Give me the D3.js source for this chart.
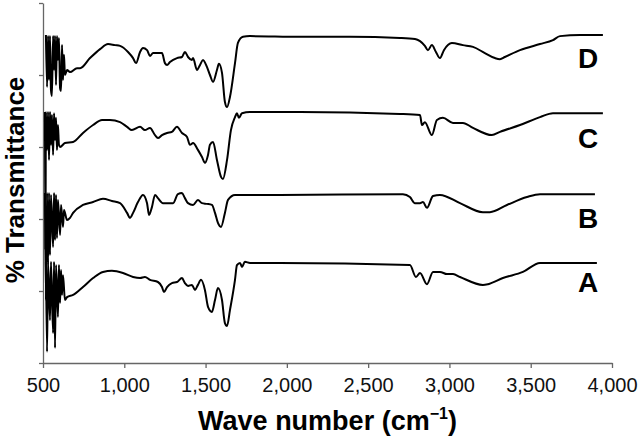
<!DOCTYPE html>
<html>
<head>
<meta charset="utf-8">
<script src="https://cdn.jsdelivr.net/npm/d3@7"></script>
<style>
  body { margin: 0; background: #fff; }
  svg { display: block; font-family: Arial, "Liberation Sans", Helvetica, sans-serif; }
</style>
</head>
<body>
<svg id="view" width="640" height="436"></svg>
<script>
// FTIR spectra, offset stack; [wave number, % transmittance (arbitrary offset)]
var specD = [
  [518,91.1],[525,76.7],[531,90.8],[537,78.6],[543,90.8],[549,75.8],[555,74.2],[562,90.8],
  [568,81.4],[574,90.8],[580,77.2],[586,90.8],[592,84.2],[598,90.3],[605,76.4],[611,75.6],
  [617,88.3],[623,78.6],[629,85.6],[635,80.0],[648,81.4],[666,80.8],[709,81.9],[728,81.9],
  [789,84.7],[851,87.2],[900,88.6],[943,88.3],[974,88.1],[1023,86.4],[1054,84.7],[1072,83.3],
  [1097,86.4],[1115,87.5],[1140,86.9],[1158,85.3],[1177,86.1],[1232,86.1],[1250,83.3],[1263,82.8],
  [1281,83.6],[1324,84.7],[1355,85.0],[1373,86.4],[1392,85.0],[1416,84.2],[1423,84.7],[1447,81.4],
  [1466,82.8],[1484,84.2],[1509,82.2],[1527,80.0],[1546,78.1],[1570,81.4],[1582,83.1],[1601,80.6],
  [1619,72.5],[1632,71.1],[1650,73.9],[1681,83.3],[1699,88.9],[1730,90.6],[1773,90.8],[2081,90.6],
  [2388,90.6],[2696,90.3],[2788,90.0],[2819,89.4],[2849,88.1],[2868,86.9],[2892,88.3],[2917,86.4],
  [2942,84.7],[2966,86.9],[3015,88.9],[3083,88.3],[3145,87.8],[3218,86.1],[3280,84.7],[3311,84.4],
  [3341,85.0],[3434,86.9],[3557,88.6],[3637,89.7],[3680,90.8],[3803,91.1],[3944,91.1]
];
var specC = [
  [512,69.7],[515,31.4],[518,69.7],[525,59.2],[531,69.7],[537,56.4],[543,69.7],[549,60.6],
  [555,68.9],[562,57.8],[568,69.4],[574,61.9],[580,68.1],[586,59.2],[592,66.1],[598,60.6],
  [605,60.0],[635,61.1],[685,61.4],[746,63.9],[808,66.1],[863,67.5],[912,67.5],[974,66.9],
  [1017,65.6],[1047,64.7],[1097,65.6],[1127,64.7],[1158,65.3],[1189,63.3],[1207,62.5],[1232,63.3],
  [1263,63.9],[1293,64.2],[1324,65.6],[1355,63.9],[1386,62.8],[1404,60.6],[1423,61.1],[1453,59.2],
  [1478,57.2],[1496,55.6],[1515,57.8],[1527,60.6],[1546,61.4],[1570,56.4],[1595,51.7],[1607,51.1],
  [1632,56.4],[1656,64.7],[1681,68.3],[1693,69.4],[1705,68.1],[1724,69.4],[1773,69.7],[2081,69.7],
  [2696,69.2],[2819,68.9],[2831,66.1],[2849,66.9],[2892,63.3],[2923,67.5],[2960,68.1],[3022,66.7],
  [3083,66.7],[3145,65.3],[3261,63.3],[3311,64.2],[3434,66.1],[3557,68.3],[3637,69.4],[3944,69.4]
];
var specB = [
  [512,47.2],[518,17.5],[525,47.2],[531,27.8],[537,47.2],[543,30.0],[549,46.7],[562,32.2],
  [568,47.2],[574,34.2],[580,46.7],[586,34.7],[592,45.3],[605,35.6],[611,43.9],[623,37.8],
  [629,42.5],[648,39.7],[666,40.3],[685,41.7],[746,43.9],[808,44.7],[869,45.6],[924,45.0],
  [974,44.4],[1017,41.7],[1035,40.3],[1054,41.7],[1084,44.7],[1115,46.7],[1140,44.4],[1152,41.1],
  [1170,43.3],[1189,46.7],[1207,45.8],[1238,44.4],[1300,44.4],[1330,46.9],[1355,47.2],[1373,45.8],
  [1392,44.4],[1423,43.9],[1453,45.3],[1478,44.4],[1509,44.2],[1539,43.9],[1558,41.7],[1576,38.9],
  [1595,37.8],[1619,41.7],[1638,45.3],[1681,46.7],[1958,46.7],[2714,46.9],[2757,46.1],[2788,44.4],
  [2819,44.4],[2837,44.7],[2862,43.1],[2899,46.4],[2942,46.7],[3065,44.4],[3206,41.9],[3249,41.9],
  [3354,43.9],[3477,46.1],[3557,46.9],[3895,46.9]
];
var specA = [
  [518,28.1],[525,3.1],[531,28.1],[543,11.9],[549,28.1],[562,8.3],[568,28.1],[574,4.2],
  [580,27.2],[592,12.8],[598,27.2],[605,16.7],[611,25.8],[617,18.9],[623,24.4],[635,17.5],
  [648,18.3],[685,18.9],[746,21.1],[808,23.6],[869,25.3],[924,25.6],[992,25.0],[1054,23.9],
  [1097,23.6],[1127,23.9],[1158,23.1],[1207,22.5],[1232,21.1],[1244,19.7],[1263,21.1],[1293,22.2],
  [1324,22.5],[1355,23.6],[1373,22.2],[1392,21.4],[1416,21.7],[1435,20.3],[1453,21.7],[1472,23.1],
  [1496,20.3],[1515,15.6],[1539,14.2],[1558,17.5],[1576,20.8],[1601,17.5],[1619,11.1],[1632,10.3],
  [1650,14.7],[1681,23.1],[1693,27.2],[1712,27.8],[1724,26.7],[1742,28.1],[1773,27.8],[1958,27.8],
  [2757,27.2],[2794,23.9],[2819,25.0],[2862,21.9],[2899,25.3],[2942,25.3],[2985,24.7],[3022,24.7],
  [3065,23.9],[3206,21.7],[3237,21.9],[3329,23.6],[3452,25.3],[3557,27.8],[3907,27.8]
];
var seriesNames = ['A', 'B', 'C', 'D'];
var labelLevels = [19.6, 37.5, 59.7, 81.9];
var xTicks = [500, 1000, 1500, 2000, 2500, 3000, 3500, 4000];
var yTicks = [0, 20, 40, 60, 80, 100];

const W=640, H=436;
const margin = {top: 3, right: 28, bottom: 73, left: 43};
var view = d3.select('#view');

var x = d3.scaleLinear().domain([500, 4000]).range([margin.left, W-margin.right]);
var y = d3.scaleLinear().domain([0, 100]).range([H-margin.bottom, margin.top]);

var xAxis = view.append('g')
    .attr('transform', 'translate(0,' + (H-margin.bottom) + ')')
    .call(d3.axisBottom(x).tickValues(xTicks).tickFormat(d3.format(',')).tickSize(5).tickSizeOuter(0));
xAxis.selectAll('text').attr('font-size', 20).attr('fill', '#111').attr('dy', '1.05em');

var yAxis = view.append('g')
    .attr('transform', 'translate(' + margin.left + ',0)')
    .call(d3.axisLeft(y).tickValues(yTicks).tickFormat('').tickSize(4).tickSizeOuter(0));

view.selectAll('.domain, .tick line').attr('stroke', '#666').attr('stroke-width', 1.3);

var line = d3.line().curve(d3.curveMonotoneX).x(d=>x(d[0])).y(d=>y(d[1]));
var specs = [specA, specB, specC, specD];

view.selectAll('path.spec').data(specs).enter().append('path')
    .attr('class', 'spec')
    .attr('d', line)
    .attr('fill', 'none')
    .attr('stroke', '#000')
    .attr('stroke-width', 2)
    .attr('stroke-linejoin', 'round');

view.selectAll('text.lab').data(seriesNames).enter().append('text')
    .attr('class', 'lab')
    .attr('x', 578)
    .attr('y', (d, i) => y(labelLevels[i]))
    .attr('font-size', 28)
    .attr('font-weight', 'bold')
    .text(d => d);

var xLabel = view.append('text')
    .attr('x', (margin.left + W - margin.right)/2)
    .attr('y', 430)
    .attr('text-anchor', 'middle')
    .attr('font-size', 27)
    .attr('font-weight', 'bold');
xLabel.append('tspan').text('Wave number (cm');
xLabel.append('tspan').attr('font-size', 16).attr('dy', -11).text('\u22121');
xLabel.append('tspan').attr('dy', 11).text(')');

view.append('text')
    .attr('transform', 'translate(24,' + 180 + ') rotate(-90)')
    .attr('text-anchor', 'middle')
    .attr('font-size', 26)
    .attr('font-weight', 'bold')
    .text('% Transmittance');
</script>
</body>
</html>
